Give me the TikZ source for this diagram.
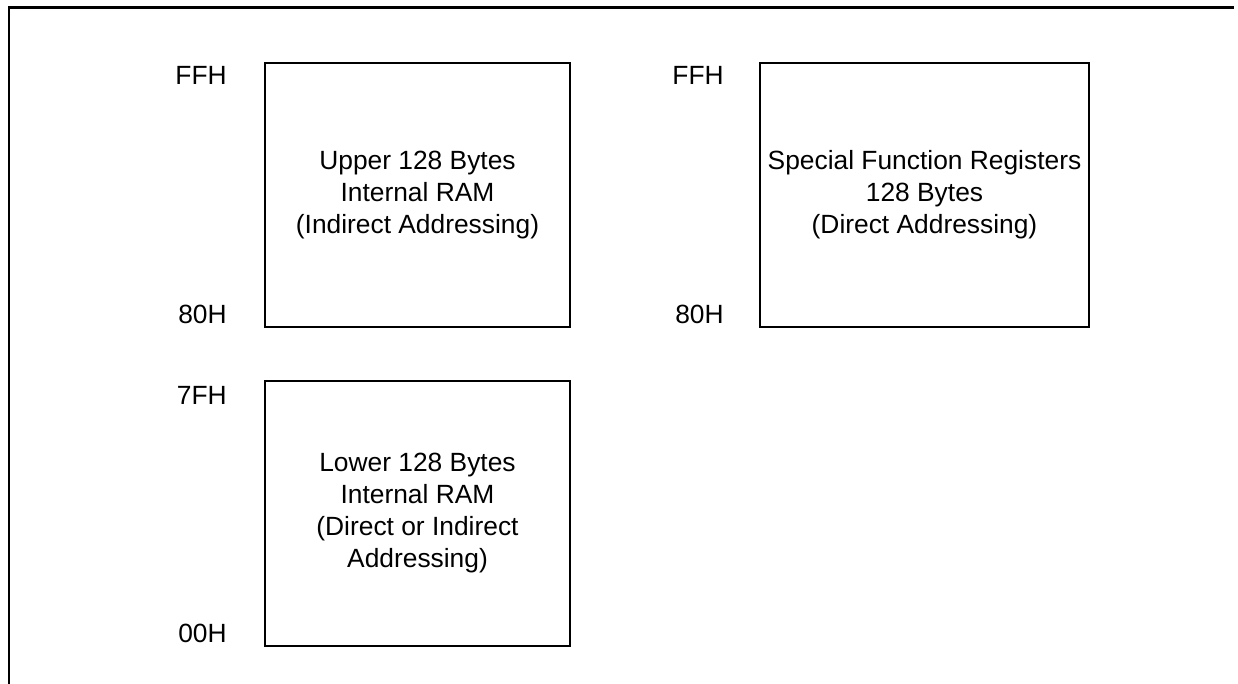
\documentclass[tikz,border=0pt]{standalone}
\usepackage{fontspec}
\setmainfont{Liberation Sans}
\usetikzlibrary{positioning}

\begin{document}
\begin{tikzpicture}[
    mem/.style={rectangle, draw=black, line width=1.1pt, inner sep=0pt,
                minimum width=6.1cm, minimum height=5.28cm, align=center,
                font=\fontsize{15pt}{18.2pt}\selectfont},
    addr/.style={inner sep=0pt, font=\fontsize{15pt}{18pt}\selectfont}
]

\useasboundingbox (0,0) rectangle (24.76,13.68);

% outer frame (open at right and bottom)
\draw[line width=1.7pt] (0.18,0) |- (24.68,13.52);

\node[mem] (upper) at (8.35, 9.78) {Upper 128 Bytes\\Internal RAM\\(Indirect Addressing)};
\node[mem, minimum width=6.58cm] (sfr) at (18.49, 9.78) {Special Function Registers\\128 Bytes\\(Direct Addressing)};
\node[mem, minimum height=5.3cm] (lower) at (8.35, 3.41) {Lower 128 Bytes\\Internal RAM\\(Direct or Indirect\\Addressing)};

% address labels
\node[addr, left=0.74cm of upper.north west, yshift=-0.27cm] (upFF) {FFH};
\node[addr, left=0.74cm of upper.south west, yshift=0.28cm] (up80) {80H};
\node[addr, left=0.7cm of sfr.north west, yshift=-0.27cm] (sfrFF) {FFH};
\node[addr, left=0.7cm of sfr.south west, yshift=0.28cm] (sfr80) {80H};
\node[addr, left=0.74cm of lower.north west, yshift=-0.3cm] (lo7F) {7FH};
\node[addr, left=0.74cm of lower.south west, yshift=0.28cm] (lo00) {00H};

\end{tikzpicture}
\end{document}
